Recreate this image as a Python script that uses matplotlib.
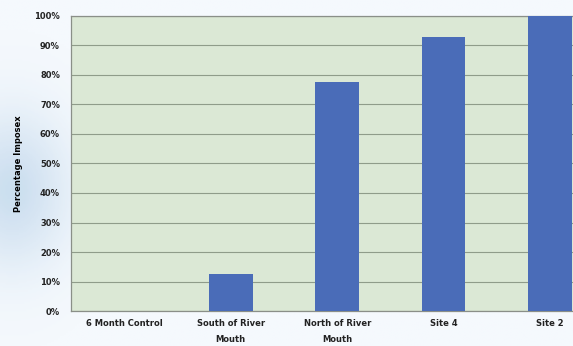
import numpy as np
import matplotlib.pyplot as plt

categories = ['6 Month Control', 'South of River\nMouth', 'North of River\nMouth', 'Site 4', 'Site 2']
imposex_pct = [0, 12.7, 77.5, 93, 100]
y_ticks = [0, 10, 20, 30, 40, 50, 60, 70, 80, 90, 100]

plt.rcParams['font.family'] = ['DejaVu Sans']

fig = plt.figure(figsize=(5.73, 3.46), dpi=100)
fig.patch.set_facecolor('#f1f5f9')

# soft bluish haze behind the left side
bg = fig.add_axes([0, 0, 1, 1], zorder=-1)
yy, xx = np.mgrid[0:1:200j, 0:1:300j]
haze = np.exp(-((xx - 0.02) ** 2 / 0.01 + (yy - 0.55) ** 2 / 0.05))
bg.imshow(haze, cmap='Blues', vmin=0, vmax=3.5, extent=[0, 1, 0, 1], aspect='auto', alpha=0.7)
bg.axis('off')

ax = fig.add_axes([0.124, 0.101, 0.929, 0.853])
ax.set_facecolor('#dbe8d5')
x = np.arange(len(categories))
ax.bar(x, imposex_pct, width=0.41, color='#4a6cb8', zorder=3)

ax.set_xlim(-0.5, len(categories) - 0.5)
ax.set_ylim(0, 100)
ax.set_yticks(y_ticks)
ax.set_yticklabels([f'{t}%' for t in y_ticks])
ax.set_xticks(x)
ax.set_xticklabels(categories, fontsize=6, fontweight='bold', linespacing=2.0)
for lab in ax.get_yticklabels():
    lab.set_fontsize(6)
    lab.set_fontweight('bold')
ax.tick_params(axis='both', length=0, pad=8, colors='#222222')
ax.tick_params(axis='x', pad=6)
ax.grid(axis='y', color='#8f9c8a', linewidth=0.8, zorder=0)
ax.spines['right'].set_visible(False)
for side in ['left', 'bottom', 'top']:
    ax.spines[side].set_color('#8a8f88')
    ax.spines[side].set_linewidth(0.9)
ax.set_ylabel('Percentage Imposex', fontsize=6, fontweight='bold', labelpad=8)

fig.savefig('out.png', dpi=100, facecolor=fig.get_facecolor())
